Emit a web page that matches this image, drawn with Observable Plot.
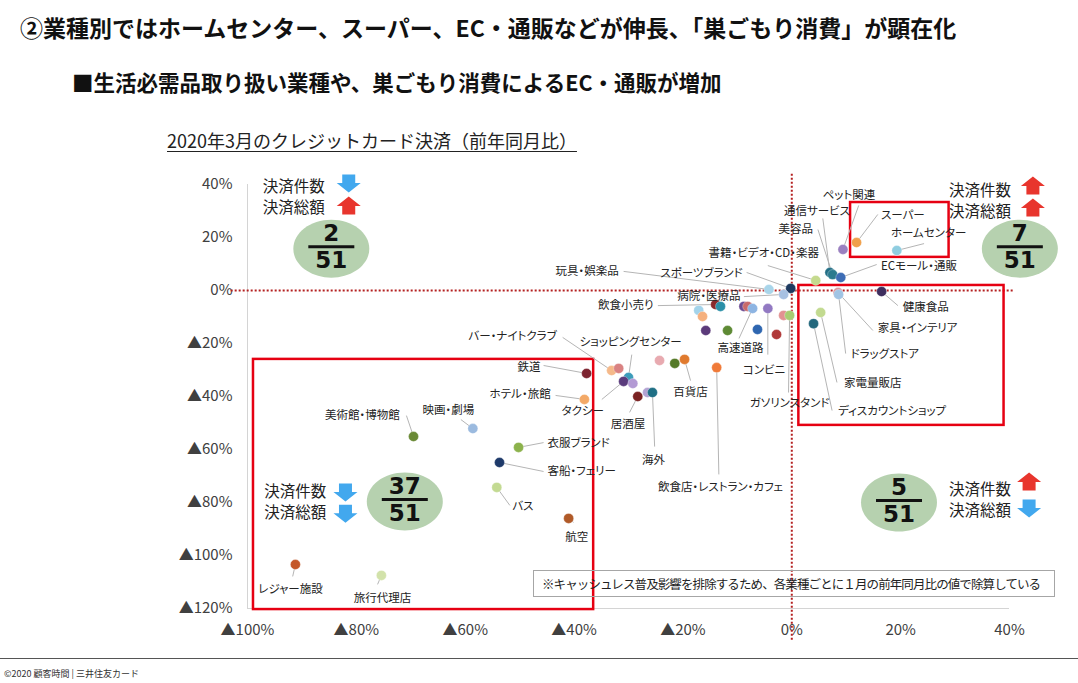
<!DOCTYPE html>
<html><head><meta charset="utf-8">
<script src="https://cdn.jsdelivr.net/npm/d3@7"></script>
<script src="https://cdn.jsdelivr.net/npm/@observablehq/plot@0.6"></script>
<style>
body{margin:0;background:#fff;}
#page{position:relative;width:1078px;height:683px;overflow:hidden;font-family:"Noto Sans CJK JP",sans-serif;color:#111;}
.abs{position:absolute;white-space:nowrap;line-height:1;}
#chart g[aria-label="text"] text{font-feature-settings:"palt";}
</style></head><body><div id="page">
<div class="abs" style="left:20px;top:16px;font-size:23px;font-weight:bold;">②業種別ではホームセンター、スーパー、EC・通販などが伸長、「巣ごもり消費」が顕在化</div>
<div class="abs" style="left:72px;top:71px;font-size:21.5px;font-weight:bold;">■生活必需品取り扱い業種や、巣ごもり消費によるEC・通販が増加</div>
<div class="abs" style="left:167px;top:131px;font-size:18px;text-decoration:underline;text-underline-offset:3px;color:#222;">2020年3月のクレジットカード決済（前年同月比）</div>
<div id="chart" style="position:absolute;left:0;top:160px;"></div>
<div class="abs" style="left:533px;top:570px;width:512px;height:25px;line-height:25px;border:1px solid #a6a6a6;padding-left:8px;font-size:12.5px;letter-spacing:-0.9px;color:#222;">※キャッシュレス普及影響を排除するため、各業種ごとに１月の前年同月比の値で除算している</div>
<div style="position:absolute;left:0;top:658px;width:1078px;border-top:1.5px solid #555;"></div>
<div class="abs" style="left:4px;top:669px;font-size:9px;color:#333;">©2020 顧客時間 | 三井住友カード</div>
</div>
<script>
// ---- data ----
const industries = ["ペット関連","スーパー","ホームセンター","通信サービス","美容品","ECモール・通販","書籍・ビデオ・CD・楽器","スポーツブランド","玩具・娯楽品","病院・医療品",
 "家具・インテリア","ドラッグストア","健康食品","家電量販店","ディスカウントショップ","","ガソリンスタンド","飲食小売り","","",
 "","","","高速道路","コンビニ","","","","","",
 "","百貨店","飲食店・レストラン・カフェ","バー・ナイトクラブ","","ショッピングセンター","タクシー","","居酒屋","",
 "海外","鉄道","ホテル・旅館","美術館・博物館","映画・劇場","衣服ブランド","客船・フェリー","バス","航空","レジャー施設","旅行代理店"];
// 決済件数 前年同月比 (%)
const countYoY = [9.4,11.9,19.3,7.0,7.5,9.0,4.4,-0.2,-4.2,-1.5,
 8.5,8.6,16.5,5.3,4.0,-1.5,-0.4,-14.0,-13.1,-17.1,
 -16.4,-8.8,-8.1,-7.2,-4.4,-15.8,-11.8,-6.3,-2.8,-24.3,
 -21.5,-19.7,-13.8,-33.1,-31.8,-30.0,-30.9,-29.2,-28.3,-26.5,
 -25.6,-37.7,-38.1,-69.5,-58.6,-50.2,-53.7,-54.2,-41.0,-91.2,-75.4];
// 決済総額 前年同月比 (%)
const amountYoY = [15.5,18.1,15.1,6.8,6.0,4.9,3.8,0.8,0.4,-1.5,
 -0.8,-1.5,-0.4,-8.3,-12.5,-9.4,-9.4,-5.3,-6.0,-7.5,
 -9.8,-6.0,-6.0,-6.8,-6.8,-15.1,-15.1,-14.7,-16.6,-26.4,
 -27.5,-26.0,-29.1,-30.2,-29.4,-32.8,-34.3,-35.1,-40.0,-38.5,
 -38.5,-31.3,-41.1,-55.1,-52.1,-59.2,-64.9,-74.3,-86.0,-103.4,-107.5];
const xTicks = [-100,-80,-60,-40,-20,0,20,40];
const yTicks = [-120,-100,-80,-60,-40,-20,0,20,40];

// ---- styles ----
const palette = ["#9a80c0","#f0a04a","#8fcde0","#246f86","#2b7a8e","#3d6db5","#c5da8e","#1e3a60","#a9d5ea","#a7c1e2",
 "#d8939b","#a0c4e4","#3e2e5e","#c2da90","#23687d","#e29292","#a8cd72","#8a2a2c","#2b90a8","#a3d3ea",
 "#f5b07e","#6c4b92","#c86a6a","#8db4e2","#9279c2","#5b3a7a","#5e8a35","#2e66b0","#b03838","#e8aab0",
 "#557a28","#e07a2e","#f07a38","#f5b98a","#d98282","#3c9cba","#5a3b7c","#b39ad4","#7a2222","#b3a3d3",
 "#1f6f85","#7d2430","#f3a967","#6a8a36","#9bbadf","#8cb24c","#1e3a6a","#c3da92","#b05a28","#c4582a","#d2e2aa"];

// ---- annotation layout (data units) ----
const labelLayout = [
 {name:"ペット関連", tx:10.5, ty:35.8, anchor:"middle", lx:12.3, ly:32.1},
 {name:"通信サービス", tx:10.7, ty:29.8, anchor:"end", lx:5.7, ly:27.2},
 {name:"スーパー", tx:16.4, ty:28.3, anchor:"start", lx:15.8, ly:28.7},
 {name:"ホームセンター", tx:18.2, ty:21.5, anchor:"start", lx:24.3, ly:17.7},
 {name:"美容品", tx:3.9, ty:23.0, anchor:"end", lx:4.8, ly:23.0},
 {name:"書籍・ビデオ・CD・楽器", tx:-15.3, ty:14.0, anchor:"start", lx:-4.4, ly:9.4},
 {name:"ECモール・通販", tx:16.4, ty:9.1, anchor:"start", lx:15.6, ly:9.8},
 {name:"玩具・娯楽品", tx:-31.8, ty:7.2, anchor:"end", lx:-30.9, ly:7.2},
 {name:"スポーツブランド", tx:-9.0, ty:6.4, anchor:"end", lx:-8.3, ly:6.8},
 {name:"病院・医療品", tx:-9.4, ty:-2.3, anchor:"end", lx:-8.8, ly:-2.3},
 {name:"飲食小売り", tx:-25.4, ty:-5.7, anchor:"end", lx:-24.6, ly:-5.7},
 {name:"高速道路", tx:-9.4, ty:-21.9, anchor:"middle", lx:-9.7, ly:-18.1},
 {name:"コンビニ", tx:-5.1, ty:-30.2, anchor:"middle", lx:-4.4, ly:-24.2},
 {name:"ガソリンスタンド", tx:-0.4, ty:-42.6, anchor:"middle", lx:-0.6, ly:-38.5},
 {name:"家具・インテリア", tx:15.8, ty:-14.3, anchor:"start", lx:14.9, ly:-15.1},
 {name:"健康食品", tx:20.4, ty:-6.4, anchor:"start", lx:19.5, ly:-5.7},
 {name:"ドラッグストア", tx:10.8, ty:-24.2, anchor:"start", lx:9.9, ly:-23.8},
 {name:"家電量販店", tx:9.6, ty:-35.1, anchor:"start", lx:8.3, ly:-34.7},
 {name:"ディスカウントショップ", tx:8.5, ty:-45.7, anchor:"start", lx:7.4, ly:-45.3},
 {name:"バー・ナイトクラブ", tx:-43.2, ty:-17.4, anchor:"end", lx:-42.1, ly:-17.7},
 {name:"ショッピングセンター", tx:-29.6, ty:-19.6, anchor:"middle", lx:-29.4, ly:-24.2},
 {name:"鉄道", tx:-48.3, ty:-29.1, anchor:"middle", lx:-45.6, ly:-28.3},
 {name:"ホテル・旅館", tx:-44.3, ty:-39.2, anchor:"end", lx:-43.4, ly:-39.6},
 {name:"タクシー", tx:-38.4, ty:-45.7, anchor:"middle", lx:-34.9, ly:-41.1},
 {name:"居酒屋", tx:-30.1, ty:-50.6, anchor:"middle", lx:-29.8, ly:-46.0},
 {name:"海外", tx:-25.4, ty:-64.2, anchor:"middle", lx:-25.2, ly:-58.9},
 {name:"百貨店", tx:-18.6, ty:-38.5, anchor:"middle", lx:-18.6, ly:-34.0},
 {name:"飲食店・レストラン・カフェ", tx:-13.1, ty:-74.3, anchor:"middle", lx:-13.4, ly:-69.4},
 {name:"美術館・博物館", tx:-78.9, ty:-47.2, anchor:"middle", lx:-70.8, ly:-47.2},
 {name:"映画・劇場", tx:-63.1, ty:-45.3, anchor:"middle", lx:-60.8, ly:-48.7},
 {name:"衣服ブランド", tx:-44.9, ty:-57.7, anchor:"start", lx:-45.6, ly:-57.4},
 {name:"客船・フェリー", tx:-44.9, ty:-68.3, anchor:"start", lx:-45.6, ly:-68.3},
 {name:"バス", tx:-49.4, ty:-81.5, anchor:"middle", lx:-51.8, ly:-81.1},
 {name:"航空", tx:-39.5, ty:-93.2, anchor:"middle", lx:-40.1, ly:-87.5},
 {name:"レジャー施設", tx:-92.1, ty:-112.8, anchor:"middle", lx:-91.7, ly:-107.9},
 {name:"旅行代理店", tx:-75.2, ty:-116.2, anchor:"middle", lx:-76.1, ly:-110.9}
];
const boxes = [
 {x1:10.8, x2:28.9, y1:33.2, y2:12.5},
 {x1:1.3, x2:39.0, y1:1.9, y2:-50.9},
 {x1:-98.9, x2:-36.4, y1:-26.0, y2:-120.4}
];
const quadrantLayout = [
 {q:"UL", x:-84.6, y:15.8, tx:-97.2, ty:[39.2,31.1], ax:-81.4, ay:[40.4,32.1], arrows:["down","up"]},
 {q:"UR", x:41.9, y:15.8, tx:28.9, ty:[37.6,29.5], ax:44.3, ay:[39.6,31.3], arrows:["up","up"]},
 {q:"LL", x:-71.1, y:-79.6, tx:-96.9, ty:[-75.9,-84.0], ax:-82.0, ay:[-76.2,-84.2], arrows:["down","down"]},
 {q:"LR", x:19.7, y:-80.0, tx:28.9, ty:[-75.3,-83.4], ax:43.6, ay:[-72.1,-82.3], arrows:["up","down"]}
];

// ---- build ----
const points = industries.map((name,i)=>({name, x:countYoY[i], y:amountYoY[i], color:palette[i]}));
const total = points.length;
const quadOf = p => (p.y > 0 ? "U" : "L") + (p.x > 0 ? "R" : "L");
const counts = d3.rollup(points, v=>v.length, quadOf);
const quads = quadrantLayout.map(q=>({...q, num:String(counts.get(q.q)||0), den:String(total)}));
const byName = new Map(points.filter(p=>p.name).map(p=>[p.name,p]));
const labels = labelLayout.map(l=>({...l, px:byName.get(l.name).x, py:byName.get(l.name).y}));
const arrowTexts = quads.flatMap(q=>[{x:q.tx,y:q.ty[0],text:"決済件数"},{x:q.tx,y:q.ty[1],text:"決済総額"}]);
const arrows = quads.flatMap(q=>[{x:q.ax,y:q.ay[0],dir:q.arrows[0]},{x:q.ax,y:q.ay[1],dir:q.arrows[1]}]);

const fmt = d => d < 0 ? "▲" + (-d) + "%" : d + "%";
const ellipse = (rx, ry) => ({draw(c){const k=0.5523;
  c.moveTo(rx,0); c.bezierCurveTo(rx,ry*k,rx*k,ry,0,ry); c.bezierCurveTo(-rx*k,ry,-rx,ry*k,-rx,0);
  c.bezierCurveTo(-rx,-ry*k,-rx*k,-ry,0,-ry); c.bezierCurveTo(rx*k,-ry,rx,-ry*k,rx,0); c.closePath();}});
const bar = {draw(c){c.moveTo(-23,-1.5);c.lineTo(23,-1.5);c.lineTo(23,1.5);c.lineTo(-23,1.5);c.closePath();}};
const upArrow = {draw(c){c.moveTo(0,-9);c.lineTo(12,0.5);c.lineTo(6.5,0.5);c.lineTo(6.5,9);c.lineTo(-6.5,9);c.lineTo(-6.5,0.5);c.lineTo(-12,0.5);c.closePath();}};
const downArrow = {draw(c){c.moveTo(0,9);c.lineTo(12,-0.5);c.lineTo(6.5,-0.5);c.lineTo(6.5,-9);c.lineTo(-6.5,-9);c.lineTo(-6.5,-0.5);c.lineTo(-12,-0.5);c.closePath();}};

const F = "Noto Sans CJK JP";
const chart = Plot.plot({
  width: 1078, height: 498,
  marginLeft: 247, marginRight: 69, marginTop: 24, marginBottom: 50,
  x: {domain: [-100, 40], axis: null},
  y: {domain: [-120, 40], axis: null},
  color: {type: "identity"},
  style: {fontFamily: F, background: "transparent", overflow: "visible"},
  marks: [
    Plot.ruleX([-100], {stroke: "#d4d4d4", strokeWidth: 1}),
    Plot.ruleY([-120], {stroke: "#d4d4d4", strokeWidth: 1}),
    Plot.axisX({ticks: xTicks, tickFormat: fmt, tickSize: 0, tickPadding: 16, fontSize: 15, fill: "#404040", label: null}),
    Plot.axisY({ticks: yTicks, tickFormat: fmt, tickSize: 0, tickPadding: 15, fontSize: 15, fill: "#404040", label: null}),
    Plot.ruleY([0], {x1: -103, x2: 41, stroke: "#b42020", strokeWidth: 2, strokeDasharray: "2,2"}),
    Plot.ruleX([0], {y1: -132, y2: 44.3, stroke: "#b42020", strokeWidth: 2, strokeDasharray: "2,2"}),
    Plot.rect(boxes, {x1: "x1", x2: "x2", y1: "y1", y2: "y2", fill: "none", stroke: "#e60012", strokeWidth: 2.5}),
    Plot.dot(quads, {x: "x", y: "y", symbol: ellipse(38, 29), r: 5, fill: "#b6d1af", stroke: null}),
    Plot.dot(quads, {x: "x", y: "y", symbol: bar, r: 5, dy: -2, fill: "#111", stroke: null}),
    Plot.text(quads, {x: "x", y: "y", text: "num", dy: -15, fontSize: 23, fontWeight: "bold", fontFamily: "DejaVu Sans", fill: "#111"}),
    Plot.text(quads, {x: "x", y: "y", text: "den", dy: 12, fontSize: 23, fontWeight: "bold", fontFamily: "DejaVu Sans", fill: "#111"}),
    Plot.text(arrowTexts, {x: "x", y: "y", text: "text", textAnchor: "start", fontSize: 15.5, fill: "#222"}),
    Plot.dot(arrows.filter(d=>d.dir==="up"), {x: "x", y: "y", symbol: upArrow, r: 5, fill: "#e8352d", stroke: null}),
    Plot.dot(arrows.filter(d=>d.dir==="down"), {x: "x", y: "y", symbol: downArrow, r: 5, fill: "#42a8ee", stroke: null}),
    Plot.link(labels, {x1: "px", y1: "py", x2: "lx", y2: "ly", stroke: "#b5b5b5", strokeWidth: 1}),
    Plot.dot(points, {x: "x", y: "y", r: 5, fill: "color", stroke: "#ffffff", strokeOpacity: 0.5, strokeWidth: 0.6}),
    ...["start","middle","end"].map(a => Plot.text(labels.filter(l=>l.anchor===a),
      {x: "tx", y: "ty", text: "name", textAnchor: a, fontSize: 11.5, fill: "#222"}))
  ]
});
document.getElementById("chart").appendChild(chart);
</script>
</body></html>
